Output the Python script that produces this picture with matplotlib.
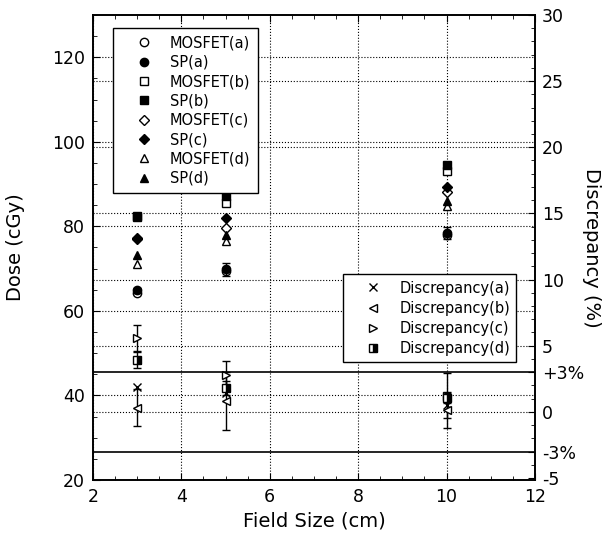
import matplotlib
matplotlib.use("Agg")
import matplotlib.pyplot as plt
from matplotlib.ticker import MultipleLocator

# field sizes (cm)
field = [3, 5, 10]

# dose (cGy), left axis
mosfet_a = [64.3, 69.4, 78.0]
sp_a = [64.9, 69.8, 78.4]
sp_a_err = [0.6, 1.5, 1.5]
mosfet_b = [82.2, 85.5, 93.0]
sp_b = [82.5, 87.1, 94.6]
mosfet_c = [77.0, 79.6, 88.2]
sp_c = [77.2, 82.0, 89.4]
mosfet_d = [71.0, 76.5, 84.7]
sp_d = [73.2, 78.0, 85.9]

# discrepancy (%), right axis
disc_a = [1.9, 1.4, 0.55]
disc_b = [0.3, 0.8, 0.15]
disc_b_err = [1.4, 2.2, 1.35]
disc_c = [5.6, 2.75, 1.2]
disc_c_err = [1.0, 1.1, 1.7]
disc_d = [3.9, 1.8, 1.05]
disc_d_err = [0.6, 0.5, 0.4]

plt.rcParams["font.family"] = "DejaVu Sans"

fig = plt.figure(figsize=(6.12, 5.42), dpi=100)
ax1 = fig.add_axes([0.152, 0.1144, 0.722, 0.858])
ax2 = ax1.twinx()

ms = 6
kw = dict(color="black", ls="none", ms=ms, mew=1.0)

h = []
h += ax1.plot(field, mosfet_a, marker="o", mfc="white", label="MOSFET(a)", **kw)
ax1.errorbar(field, sp_a, yerr=sp_a_err, fmt="none", ecolor="black", capsize=3, lw=1)
h += ax1.plot(field, sp_a, marker="o", mfc="black", label="SP(a)", **kw)
h += ax1.plot(field, mosfet_b, marker="s", mfc="white", label="MOSFET(b)", **kw)
h += ax1.plot(field, sp_b, marker="s", mfc="black", label="SP(b)", **kw)
h += ax1.plot(field, mosfet_c, marker="D", mfc="white", label="MOSFET(c)",
              **{**kw, "ms": 5})
h += ax1.plot(field, sp_c, marker="D", mfc="black", label="SP(c)", **{**kw, "ms": 5})
h += ax1.plot(field, mosfet_d, marker="^", mfc="white", label="MOSFET(d)", **kw)
h += ax1.plot(field, sp_d, marker="^", mfc="black", label="SP(d)", **kw)

for vals, err in [(disc_b, disc_b_err), (disc_c, disc_c_err), (disc_d, disc_d_err)]:
    ax2.errorbar(field, vals, yerr=err, fmt="none", ecolor="black", capsize=3, lw=1)
h2 = []
h2 += ax2.plot(field, disc_a, marker="x", mfc="white", label="Discrepancy(a)", **kw)
h2 += ax2.plot(field, disc_b, marker="<", mfc="white", label="Discrepancy(b)", **kw)
h2 += ax2.plot(field, disc_c, marker=">", mfc="white", label="Discrepancy(c)", **kw)
h2 += ax2.plot(field, disc_d, marker="s", mfc="black", mfcalt="white",
               fillstyle="right", label="Discrepancy(d)", **kw)

ax2.axhline(3, color="black", lw=1.2)
ax2.axhline(-3, color="black", lw=1.2)

ax1.set_xlim(2, 12)
ax1.set_ylim(20, 130)
ax2.set_ylim(-5.15, 30)

ax1.xaxis.set_major_locator(MultipleLocator(2))
ax1.xaxis.set_minor_locator(MultipleLocator(0.5))
ax1.yaxis.set_major_locator(MultipleLocator(20))
ax1.yaxis.set_minor_locator(MultipleLocator(5))
ax2.set_yticks([-5, -3, 0, 3, 5, 10, 15, 20, 25, 30])
ax2.set_yticklabels(["-5", "-3%", "0", "+3%", "5", "10", "15", "20", "25", "30"])
ax2.yaxis.set_minor_locator(MultipleLocator(1))

ax1.tick_params(which="both", direction="in", top=True, right=False,
                labelsize=12.5, pad=6)
ax1.tick_params(which="major", length=5)
ax1.tick_params(which="minor", length=3)
ax2.tick_params(which="both", direction="in", labelsize=12.5, pad=5)
ax2.tick_params(which="major", length=5)
ax2.tick_params(which="minor", length=3)

ax1.grid(True, which="major", ls=":", color="black", lw=0.8)
for t in [0, 5, 10, 15, 20, 25]:
    ax2.axhline(t, ls=":", color="black", lw=0.8, zorder=0)

for a in (ax1, ax2):
    for s in a.spines.values():
        s.set_linewidth(1.2)

ax1.set_xlabel("Field Size (cm)", fontsize=14)
ax1.set_ylabel("Dose (cGy)", fontsize=14, labelpad=19)
ax2.set_ylabel("Discrepancy (%)", fontsize=14, rotation=270, labelpad=12)

leg_kw = dict(loc="upper left", bbox_transform=fig.transFigure, fontsize=10.5,
              frameon=True, fancybox=False, edgecolor="black", framealpha=1,
              handlelength=3.2, handletextpad=0.2, borderaxespad=0)
leg1 = ax2.legend(handles=h, bbox_to_anchor=(0.1846, 0.9483),
                  labelspacing=0.3, borderpad=0.5, **leg_kw)
leg1.get_frame().set_linewidth(1.0)
ax2.add_artist(leg1)
leg2 = ax2.legend(handles=h2, bbox_to_anchor=(0.5605, 0.4945),
                  labelspacing=0.35, borderpad=0.45, **leg_kw)
leg2.get_frame().set_linewidth(1.0)
leg1.set_zorder(10)
leg2.set_zorder(10)

fig.savefig("out.png", dpi=100)
